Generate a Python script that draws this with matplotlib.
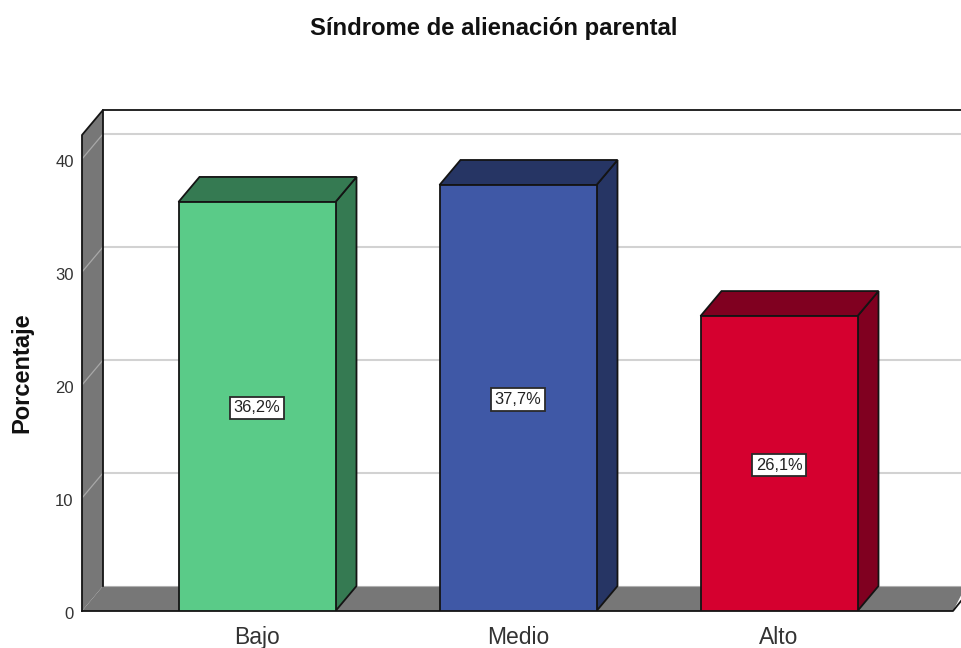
import matplotlib
matplotlib.use("Agg")
import matplotlib.pyplot as plt
from matplotlib.patches import Polygon
from matplotlib.transforms import ScaledTranslation

categories = ["Bajo", "Medio", "Alto"]
values = [36.2, 37.7, 26.1]
labels = ["36,2%", "37,7%", "26,1%"]
front_colors = ["#5ACB88", "#3F58A6", "#D5002F"]
side_colors = ["#357A52", "#263564", "#800020"]
yticks = [0, 10, 20, 30, 40]

W, H = 961, 648
PX_X, PX_Y = 261.0, 11.3      # pixels per category / per percent unit
x0_px, y0_px = 257.0, 611.0   # first category centre, baseline
L, R, T = 82, 961, 111

plt.rcParams["font.family"] = ["Liberation Sans", "DejaVu Sans"]
fig = plt.figure(figsize=(W / 100, H / 100), dpi=100, facecolor="white")
ax = fig.add_axes([L / W, 1 - y0_px / H, (R - L) / W, (y0_px - T) / H])
ax.set_xlim((L - x0_px) / PX_X, (R - x0_px) / PX_X)
ax.set_ylim(0, (y0_px - T) / PX_Y)
ax.patch.set_alpha(0)
for s in ax.spines.values():
    s.set_visible(False)

dx, dy = 21 / PX_X, 25 / PX_Y
xl, xr = ax.get_xlim()
ytop_front = (y0_px - 135) / PX_Y
ec = "#141414"
GREY = "#777777"

# back wall top edge and gridlines
for v in yticks[1:]:
    ax.plot([xl + dx, xr], [v + dy, v + dy], color="#d2d2d2", lw=1.5, zorder=1, solid_capstyle="butt")
ax.plot([xl + dx, xr], [ytop_front + dy, ytop_front + dy], color=ec, lw=1.3, zorder=4, clip_on=False)

# floor
xfloor_end = (953 - x0_px) / PX_X
ax.add_patch(Polygon([(xl, 0), (xl + dx, dy), (xr, dy), (xr, dy * 0.62), (xfloor_end, 0)],
                     closed=True, fc=GREY, ec="none", zorder=2, clip_on=False))
ax.plot([xl + dx, xr], [dy, dy], color="#b0b0b0", lw=0.8, zorder=3)

# left wall, outlined on all sides except the floor join
ax.add_patch(Polygon([(xl, 0), (xl + dx, dy), (xl + dx, ytop_front + dy), (xl, ytop_front)],
                     closed=True, fc=GREY, ec="none", zorder=2, clip_on=False))
for v in yticks[1:]:
    ax.plot([xl, xl + dx], [v, v + dy], color="#a8a8a8", lw=0.9, zorder=3)
ax.plot([xl, xl, xl + dx, xl + dx], [0, ytop_front, ytop_front + dy, dy], color=ec, lw=1.3, zorder=4, clip_on=False)
ax.plot([xl, xfloor_end, xfloor_end + 8 / PX_X], [0, 0, 10 / PX_Y], color=ec, lw=1.3, zorder=3, clip_on=False)

# bars
w = 157 / PX_X
label_shift = ScaledTranslation(0, -1.5 / 100, fig.dpi_scale_trans)
for i, (v, fc, sc, t) in enumerate(zip(values, front_colors, side_colors, labels)):
    a, b = i - w / 2, i + w / 2
    ax.add_patch(Polygon([(b, 0), (b + dx, dy), (b + dx, v + dy), (b, v)], closed=True,
                         fc=sc, ec=ec, lw=1.3, zorder=5))
    ax.add_patch(Polygon([(a, v), (a + dx, v + dy), (b + dx, v + dy), (b, v)], closed=True,
                         fc=sc, ec=ec, lw=1.3, zorder=5))
    ax.bar(i, v, width=w, color=fc, edgecolor=ec, linewidth=1.3, zorder=6)
    ax.text(i, v / 2, t, ha="center", va="center", fontsize=11.8, color="#222222", zorder=7,
            transform=ax.transData + label_shift,
            bbox=dict(boxstyle="square,pad=0.22", fc="white", ec="#2a2a2a", lw=1.3))

ax.set_xticks(range(len(categories)), categories)
ax.set_yticks(yticks)
ax.tick_params(axis="both", length=0)
ax.tick_params(axis="x", labelsize=16.5, pad=10.5, labelcolor="#333333")
ax.tick_params(axis="y", labelsize=12, pad=6, labelcolor="#333333")
tick_shift = ScaledTranslation(0, -2 / 100, fig.dpi_scale_trans)
for lab in ax.get_yticklabels():
    lab.set_transform(lab.get_transform() + tick_shift)
ax.set_ylabel("Porcentaje", fontsize=17, fontweight="bold", color="#111111")
ax.yaxis.set_label_coords((33 - L) / (R - L), 0.476)
fig.text(494 / W, 1 - 29 / H, "Síndrome de alienación parental", ha="center", va="center",
         fontsize=17.2, fontweight="bold", color="#111111")
fig.savefig("out.png", dpi=100)
